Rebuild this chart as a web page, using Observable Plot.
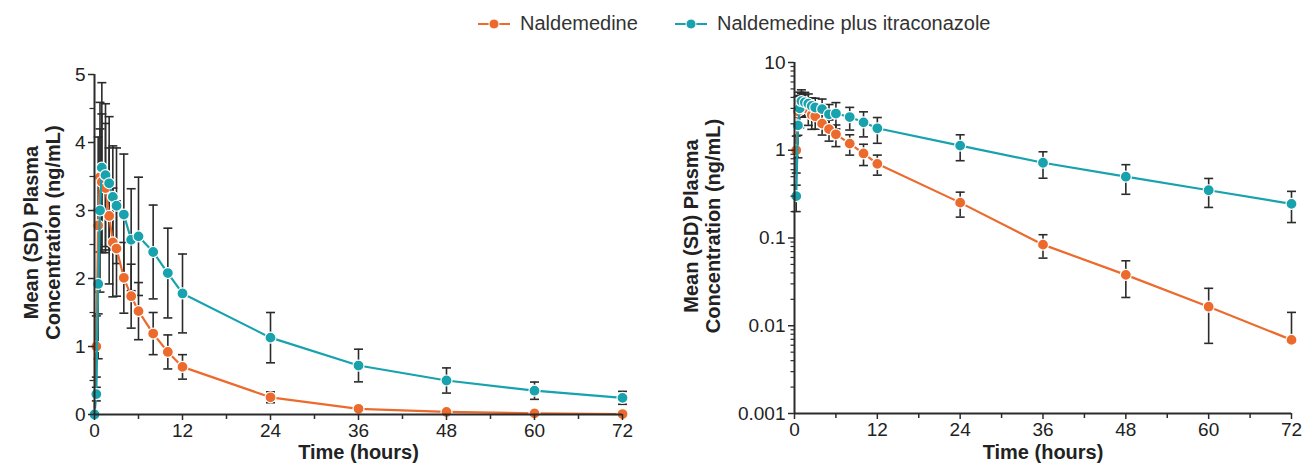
<!DOCTYPE html>
<html><head><meta charset="utf-8">
<script src="https://cdn.jsdelivr.net/npm/d3@7"></script>
<script src="https://cdn.jsdelivr.net/npm/@observablehq/plot@0.6"></script>
<style>
body{margin:0;background:#fff;font-family:"Liberation Sans",Arial,sans-serif;}
#wrap{width:1304px;height:470px;position:relative;overflow:hidden;background:#fff}
#legend{height:46px;position:relative}
.item{position:absolute;top:12px;display:flex;align-items:center;font-size:20px;color:#333;white-space:nowrap}
.item svg{margin-right:9px}
#charts{display:flex;height:424px}
</style></head><body>
<div id="wrap">
  <div id="legend"></div>
  <div id="charts"></div>
</div>
<script>
// ---- data ----
const times = [0, 0.25, 0.5, 0.75, 1, 1.5, 2, 2.5, 3, 4, 5, 6, 8, 10, 12, 24, 36, 48, 60, 72];
const naldMean = [0, 1.0, 2.78, 3.49, 3.42, 3.33, 2.92, 2.53, 2.44, 2.01, 1.74, 1.52, 1.19, 0.92, 0.70, 0.253, 0.084, 0.038, 0.0165, 0.0069];
const naldSD   = [0, 0.45, 1.3, 1.1, 1.0, 0.95, 1.0, 0.8, 0.7, 0.52, 0.47, 0.42, 0.31, 0.25, 0.18, 0.08, 0.025, 0.017, 0.0102, 0.0073];
const itraMean = [0, 0.30, 1.92, 3.0, 3.63, 3.52, 3.40, 3.20, 3.07, 2.94, 2.57, 2.62, 2.39, 2.08, 1.78, 1.13, 0.72, 0.50, 0.35, 0.245];
const itraSD   = [0, 0.1, 1.1, 1.2, 1.25, 1.05, 0.98, 0.75, 0.85, 0.89, 0.75, 0.87, 0.69, 0.66, 0.58, 0.37, 0.24, 0.185, 0.127, 0.095];
const seriesNames = ["Naldemedine", "Naldemedine plus itraconazole"];
const seriesColors = ["#EC6A2C", "#17A2AD"];
const xTicks = [0, 12, 24, 36, 48, 60, 72];
const xMinor = [6, 18, 30, 42, 54, 66];
const linTicks = [0, 1, 2, 3, 4, 5];
const linMinor = [0.5, 1.5, 2.5, 3.5, 4.5];
const logTicks = [0.001, 0.01, 0.1, 1, 10];
const yTitle = "Mean (SD) Plasma\nConcentration (ng/mL)";
const xTitle = "Time (hours)";

const logMinor = [];
[0.001, 0.01, 0.1, 1].forEach(b => { for (let k = 2; k <= 9; k++) logMinor.push(+(k * b).toPrecision(3)); });

const means = [naldMean, itraMean], sds = [naldSD, itraSD];
const rows = [];
seriesNames.forEach((s, k) => times.forEach((t, i) => rows.push({
  series: s, t, mean: means[k][i], sd: sds[k][i],
  lo: means[k][i] - sds[k][i], hi: means[k][i] + sds[k][i]
})));

// ---- legend ----
const legend = document.getElementById("legend");
const legendLeft = [477, 674];
seriesNames.forEach((s, k) => {
  const div = document.createElement("div");
  div.className = "item";
  div.style.left = legendLeft[k] + "px";
  div.innerHTML = `<svg width="34" height="14"><line x1="1" x2="33" y1="7" y2="7" stroke="${seriesColors[k]}" stroke-width="2"/><circle cx="17" cy="7" r="5" fill="${seriesColors[k]}" stroke="white" stroke-width="1"/></svg><span>${s}</span>`;
  legend.appendChild(div);
});

const cap = {draw(ctx, size) { const r = Math.sqrt(size / Math.PI); ctx.moveTo(-r, 0); ctx.lineTo(r, 0); }};
const font = "Liberation Sans, Arial, sans-serif";
const ink = "#2b2b2b";

function panel(log) {
  const data = log ? rows.filter(d => d.mean > 0) : rows;
  const bars = rows.filter(d => d.sd > 0).map(d => ({
    ...d,
    lo1: log ? (d.lo > 0 ? d.lo : d.mean) : Math.max(0, d.lo),
    hasLo: log ? d.lo > 0 : true
  }));
  const marks = [
    Plot.ruleX(bars, {x: "t", y1: "lo1", y2: "hi", stroke: ink, strokeWidth: 1.6}),
    Plot.dot(bars, {x: "t", y: "hi", symbol: cap, r: 4.5, stroke: ink, strokeWidth: 1.6, fill: "none"}),
    Plot.dot(bars.filter(d => d.hasLo), {x: "t", y: "lo1", symbol: cap, r: 4.5, stroke: ink, strokeWidth: 1.6, fill: "none"})
  ];
  seriesNames.forEach(s => {
    const d = data.filter(r => r.series === s);
    marks.push(Plot.line(d, {x: "t", y: "mean", stroke: "series", strokeWidth: 2.2}));
    marks.push(Plot.dot(d, {x: "t", y: "mean", fill: "series", stroke: "white", strokeWidth: 1.2, r: 5.5}));
  });
  const yMajor = log ? logTicks : linTicks;
  const yMin = log ? logMinor : linMinor;
  marks.push(
    Plot.ruleX([0], {stroke: ink, strokeWidth: 2}),
    Plot.ruleY([log ? 0.001 : 0], {stroke: ink, strokeWidth: 2}),
    Plot.axisX(xTicks, {tickSize: 6, tickPadding: 3, fontSize: 19, stroke: ink, fill: "#222", strokeWidth: 1.5, label: null}),
    Plot.axisX(xMinor, {tickSize: 5, tickFormat: () => "", stroke: ink, strokeWidth: 1.5, label: null}),
    Plot.axisY(yMajor, {tickSize: 6, tickPadding: 3, fontSize: 19, stroke: ink, fill: "#222", strokeWidth: 1.5, label: null,
      tickFormat: d => String(d)}),
    Plot.axisY(yMin, {tickSize: log ? 3.5 : 4.5, tickFormat: () => "", stroke: ink, strokeWidth: 1.2, label: null}),
    Plot.text([yTitle], {frameAnchor: "left", textAnchor: "middle", dx: log ? -93 : -53, dy: -12, rotate: -90, fontWeight: "bold", fontSize: 20, lineHeight: 1.1, fill: "#222"}),
    Plot.text([xTitle], {frameAnchor: "bottom", dy: log ? 45 : 44, fontWeight: "bold", fontSize: 20, fill: "#222"})
  );
  return Plot.plot({
    width: 652,
    height: 424,
    marginLeft: log ? 142 : 94,
    marginRight: log ? 13 : 30,
    marginTop: log ? 16 : 28,
    marginBottom: log ? 57 : 56,
    style: {fontFamily: font, background: "#fff", overflow: "visible"},
    x: {domain: [0, 72], axis: null},
    y: log ? {type: "log", domain: [0.001, 10], axis: null} : {domain: [0, 5], axis: null},
    color: {domain: seriesNames, range: seriesColors},
    marks
  });
}

const charts = document.getElementById("charts");
charts.appendChild(panel(false));
charts.appendChild(panel(true));
</script>
</body></html>
